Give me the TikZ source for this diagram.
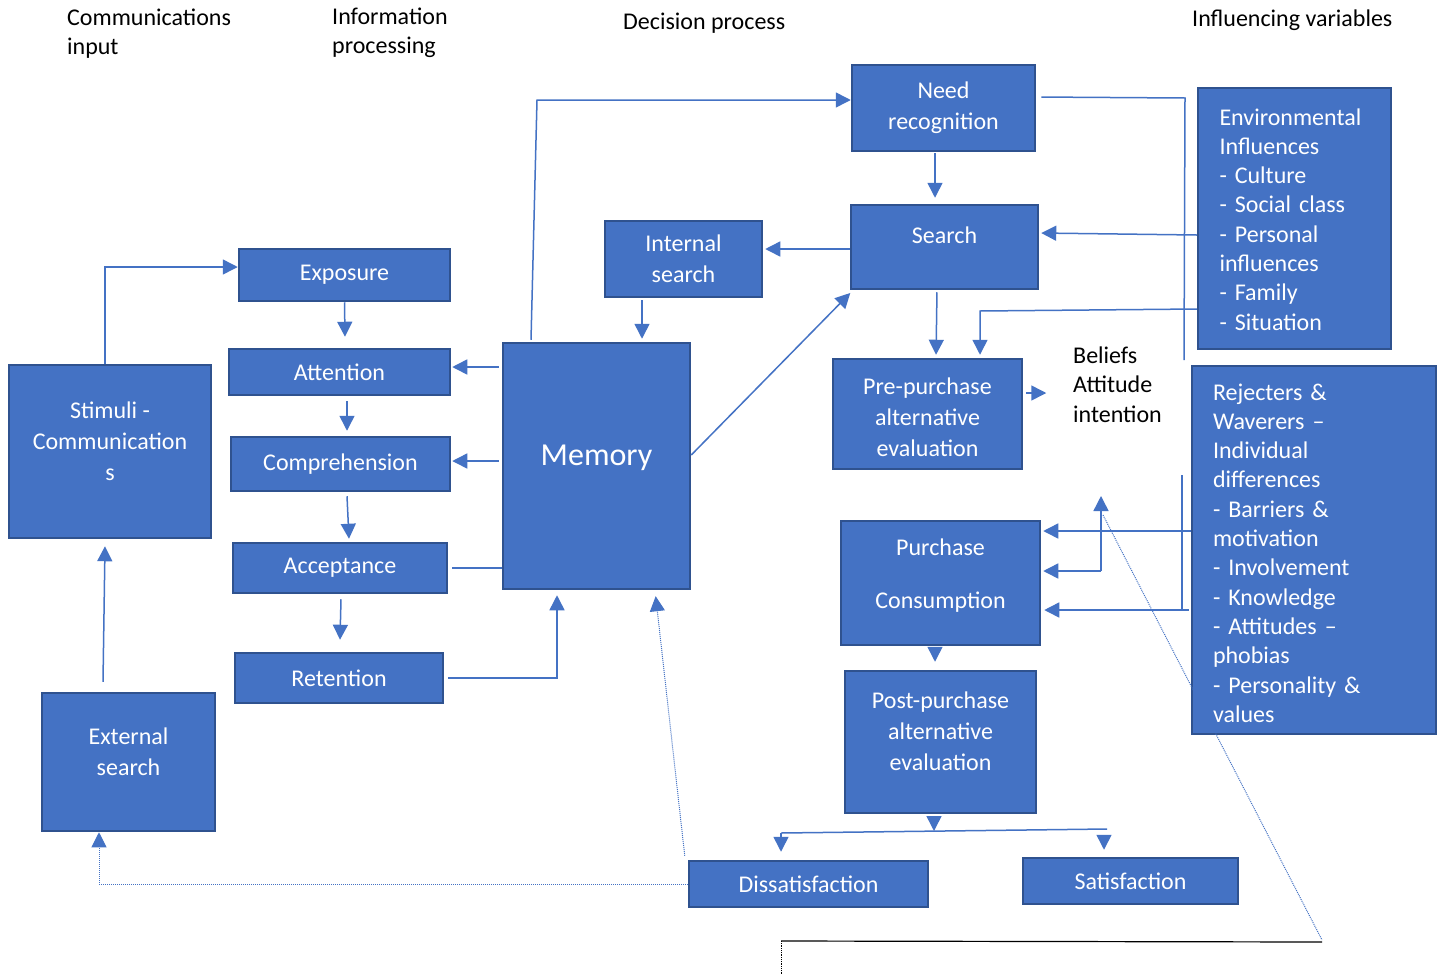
\documentclass[tikz,border=0pt]{standalone}
\usepackage{fontspec}
\setmainfont{Carlito}
\usetikzlibrary{arrows.meta}
\definecolor{boxfill}{HTML}{4472C4}
\definecolor{boxedge}{HTML}{2F528F}
\definecolor{linkblue}{HTML}{4472C4}

\tikzset{
  box/.style={draw=boxedge, fill=boxfill, line width=2.5pt, text=white,
    inner sep=0pt, align=center, font=\fontsize{24}{31}\selectfont},
  listbox/.style={box, align=left, font=\fontsize{24}{29.3}\selectfont},
  wire/.style={draw=linkblue, line width=1.5pt},
  arr/.style={wire, -{Triangle[length=15pt,width=15pt]}},
  dots/.style={draw=linkblue, line width=1pt, densely dotted},
  darr/.style={dots, -{Triangle[length=15pt,width=15pt]}},
  head/.style={font=\fontsize{24}{29}\selectfont, align=left, inner sep=0pt, anchor=base west},
}

\begin{document}
\begin{tikzpicture}[x=1pt,y=-1pt]
\fill[white] (0,0) rectangle (1443,975);
\useasboundingbox (0,0) rectangle (1443,975);

% column headings (multi-line text sits on the baseline of its last line)
\node[head] (h1) at (67,54) {Communications\\input};
\node[head] (h2) at (332,53) {Information\\processing};
\node[head] (h3) at (623,29) {Decision process};
\node[head] (h4) at (1192,26) {Influencing variables};
\node[head, font=\fontsize{24}{29.5}\selectfont] (bai) at (1073,422) {Beliefs\\Attitude\\intention};

% communications input
\node[box, minimum width=202pt, minimum height=173pt, text height=57pt, text depth=0pt] (stim) at (110,451.5) {Stimuli -\\Communication\\s};
\node[box, minimum width=173pt, minimum height=138pt, text height=26pt, text depth=0pt] (ext) at (128.5,762) {External\\search};

% information processing
\node[box, minimum width=211pt, minimum height=52pt] (expo) at (344.5,275) {Exposure};
\node[box, minimum width=221pt, minimum height=46pt] (att) at (339.5,372) {Attention};
\node[box, minimum width=219pt, minimum height=54pt] (comp) at (340.5,464) {Comprehension};
\node[box, minimum width=214pt, minimum height=50pt] (acc) at (340,568) {Acceptance};
\node[box, minimum width=208pt, minimum height=50pt] (ret) at (339,678) {Retention};
\node[box, minimum width=187pt, minimum height=246pt, font=\fontsize{32}{38}\selectfont, text height=0pt, text depth=2pt] (mem) at (596.5,466) {Memory};
\node[box, minimum width=157pt, minimum height=76pt] (isearch) at (683.5,259) {Internal\\search};

% decision process
\node[box, minimum width=183pt, minimum height=86pt] (need) at (943.5,108) {Need\\recognition};
\node[box, minimum width=187pt, minimum height=84pt, text height=0pt, text depth=8pt] (search) at (944.5,247) {Search};
\node[box, minimum width=189pt, minimum height=110pt, text height=84pt, text depth=0pt] (pre) at (927.5,414) {Pre-purchase\\alternative\\evaluation};
\node[box, minimum width=199pt, minimum height=124pt, text height=50pt, text depth=0pt] (pur) at (940.5,583) {Purchase\\[22pt]Consumption};
\node[box, minimum width=191pt, minimum height=142pt, text height=56pt, text depth=0pt] (post) at (940.5,742) {Post-purchase\\alternative\\evaluation};
\node[box, minimum width=239pt, minimum height=46pt] (dis) at (808.5,884) {Dissatisfaction};
\node[box, minimum width=215pt, minimum height=46pt] (sat) at (1130.5,881) {Satisfaction};

% influencing variables (fixed-width text sits on the baseline of its first line)
\node[listbox, minimum width=193pt, minimum height=261pt, text width=150pt, text height=0pt, text depth=187pt] (env) at (1294.5,218.5)
  {Environmental\\Influences\\- Culture\\- Social class\\- Personal\\influences\\- Family\\- Situation};
\node[listbox, minimum width=244pt, minimum height=368pt, text width=202pt, text height=0pt, text depth=300pt] (rej) at (1314,550)
  {Rejecters \&\\Waverers –\\Individual\\differences\\- Barriers \&\\motivation\\- Involvement\\- Knowledge\\- Attitudes –\\phobias\\- Personality \&\\values};

% bend points
\coordinate (m1) at (537,100);
\coordinate (e1) at (1185,98);
\coordinate (e2) at (1184,360);
\coordinate (e3) at (980,311);
\coordinate (r1) at (1182,475);
\coordinate (r2) at (1182,610);
\coordinate (p1) at (1101,571);
\coordinate (p2) at (1101,496);
\coordinate (q1) at (1103,515);
\coordinate (q2) at (1322,940);
\coordinate (q3) at (1322,942);
\coordinate (q4) at (781,941);
\coordinate (q5) at (781,975);
\coordinate (s0) at (934,831);
\coordinate (s1) at (781,833);
\coordinate (s2) at (1107,829);
\coordinate (s3) at (1104,835);

% communications input
\draw[arr] (105,0 |- stim.north) |- (expo.west |- 0,267);
\draw[arr] ([shift={(-25.5,-10)}]ext.north) -- ([shift={(-5,7)}]stim.south);

% information processing chain
\draw[arr] (expo.south) -- ([shift={(5.5,-11)}]att.north);
\draw[arr] ([shift={(7.5,5)}]att.south) -- ([shift={(6.5,-5)}]comp.north);
\draw[arr] ([shift={(6.5,4)}]comp.south) -- ([shift={(9,-3)}]acc.north);
\draw[arr] ([shift={(1,5)}]acc.south) -- ([shift={(1,-12)}]ret.north);

% memory links
\draw[arr, shorten <=3pt, shorten >=1pt] (mem.west |- 0,367) -- (att.east |- 0,367);
\draw[arr, shorten <=3pt, shorten >=1pt] (mem.west |- 0,461) -- (comp.east |- 0,461);
\draw[wire, shorten <=4pt] (acc.east) -- (acc.east -| mem.west);
\draw[arr, shorten <=4pt, shorten >=5pt] (ret.east) -- (557,0 |- ret.east) -- (557,0 |- mem.south);
\draw[arr] ([shift={(-65.5,-2)}]mem.north) -- (m1) -- (need.west |- m1);
\draw[arr, shorten >=3pt] ([shift={(-41.5,2)}]isearch.south) -- (642,0 |- mem.north);
\draw[arr, shorten >=2pt] (search.west |- 0,249) -- (isearch.east |- 0,249);
\draw[arr, shorten >=1pt] (mem.east |- 0,455) -- ([shift={(-93.5,2)}]search.south);

% decision process chain
\draw[arr, shorten <=1pt, shorten >=6pt] (935,0 |- need.south) -- (935,0 |- search.north);
\draw[arr, shorten <=2pt, shorten >=3pt] (937,0 |- search.south) -- (936,0 |- pre.north);
\draw[arr, shorten <=3pt] (pre.east |- 0,393) -- ++(23,0);
\draw[arr, shorten <=3pt, shorten >=8pt] (935,0 |- pur.south) -- (935,0 |- post.north);
\draw[arr, shorten <=2pt] (934,0 |- post.south) -- (s0);
\draw[wire] (s1) -- (s2);
\draw[arr, shorten >=8pt] (s1) -- (s1 |- dis.north);
\draw[arr, shorten >=7pt] (s3) -- (s3 |- sat.north);

% influencing variables
\draw[wire, shorten <=5pt] (need.east |- 0,97) -- (e1) -- (e2);
\draw[arr, shorten >=2pt] (env.west |- 0,235) -- (search.east |- 0,233);
\draw[arr, shorten >=3pt] (env.west |- 0,309) -- (e3) -- (e3 |- pre.north);
\draw[wire] (r1) -- (r2);
\draw[arr, shorten >=2pt] (rej.west |- 0,531) -- (pur.east |- 0,531);
\draw[arr, shorten <=2pt, shorten >=3pt] (rej.west |- 0,610) -- (pur.east |- 0,610);
\draw[arr, shorten >=2pt] (p1) -- (pur.east |- p1);
\draw[arr] (p1) -- (p2);

% feedback paths
\draw[darr] (dis.west) -- (99,0 |- dis.west) -- (99,0 |- ext.south);
\draw[darr, shorten >=6pt] ([shift={(-3,-4)}]dis.north west) -- ([xshift=58.5pt]mem.south);
\draw[dots] (q1) -- (q2);
\draw[black, line width=1.2pt] (q3) -- (q4);
\draw[black, densely dotted, line width=0.8pt] (q4) -- (q5);
\end{tikzpicture}
\end{document}
